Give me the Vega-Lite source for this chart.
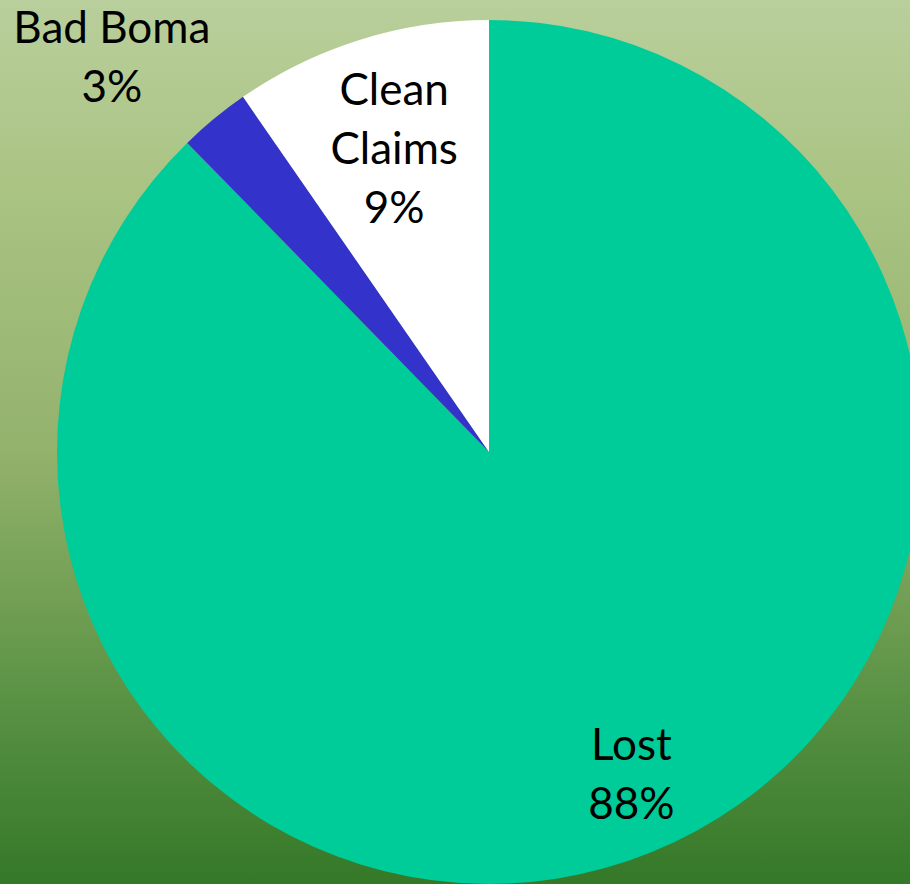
{
  "$schema": "https://vega.github.io/schema/vega-lite/v6.json",
  "width": 978,
  "height": 904,
  "padding": 0,
  "autosize": {"type": "none"},
  "background": "#B9CF9C",
  "view": {
    "stroke": null,
    "fill": {
      "gradient": "linear", "x1": 0, "y1": 0, "x2": 0, "y2": 1,
      "stops": [
        {"offset": 0, "color": "#B9CF9C"},
        {"offset": 0.22, "color": "#A9C382"},
        {"offset": 0.5, "color": "#93B26C"},
        {"offset": 0.774, "color": "#5A9244"},
        {"offset": 0.978, "color": "#347828"},
        {"offset": 1, "color": "#337727"}
      ]
    }
  },
  "data": {
    "values": [
      {"category": "Lost", "value": 87.69, "order": 1, "label": "Lost\n88%"},
      {"category": "Bad Boma", "value": 2.67, "order": 2, "label": "Bad Boma\n3%"},
      {"category": "Clean Claims", "value": 9.64, "order": 3, "label": "Clean\nClaims\n9%"}
    ]
  },
  "transform": [
    {"stack": "value", "groupby": [], "sort": [{"field": "order", "order": "ascending"}], "as": ["v0", "v1"]},
    {"calculate": "(datum.v0 + datum.v1) / 2", "as": "mid"}
  ],
  "layer": [
    {
      "mark": {"type": "arc", "outerRadius": 432, "stroke": null},
      "encoding": {
        "theta": {"field": "v0", "type": "quantitative", "scale": {"domain": [0, 100]}},
        "theta2": {"field": "v1"},
        "color": {
          "field": "category", "type": "nominal",
          "scale": {"domain": ["Lost", "Bad Boma", "Clean Claims"], "range": ["#00CC99", "#3333CC", "#FFFFFF"]},
          "legend": null
        }
      }
    },
    {
      "transform": [{"filter": "datum.category == 'Lost'"}],
      "mark": {"type": "text", "radius": 352, "thetaOffset": -0.03, "dy": -27, "lineBreak": "\n", "font": "Lato", "fontSize": 44, "lineHeight": 59, "color": "#000000", "align": "center", "baseline": "middle"},
      "encoding": {
        "theta": {"field": "mid", "type": "quantitative"},
        "text": {"field": "label"}
      }
    },
    {
      "transform": [{"filter": "datum.category == 'Clean Claims'"}],
      "mark": {"type": "text", "radius": 318, "dy": -56, "lineBreak": "\n", "font": "Lato", "fontSize": 44, "lineHeight": 59, "color": "#000000", "align": "center", "baseline": "middle"},
      "encoding": {
        "theta": {"field": "mid", "type": "quantitative"},
        "text": {"field": "label"}
      }
    },
    {
      "transform": [{"filter": "datum.category == 'Bad Boma'"}],
      "mark": {"type": "text", "radius": 546, "thetaOffset": -0.073, "dy": -27, "lineBreak": "\n", "font": "Lato", "fontSize": 44, "lineHeight": 59, "color": "#000000", "align": "center", "baseline": "middle"},
      "encoding": {
        "theta": {"field": "mid", "type": "quantitative"},
        "text": {"field": "label"}
      }
    }
  ]
}
